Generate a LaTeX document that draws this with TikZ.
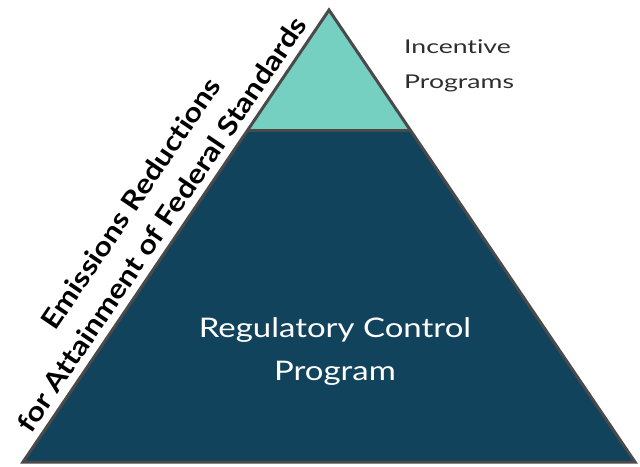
\documentclass[tikz,border=0pt]{standalone}
\usepackage{fontspec}
\setmainfont{Lato}[Ligatures=NoCommon]
\usetikzlibrary{calc}
\definecolor{pyrdark}{HTML}{12435C}
\definecolor{pyrteal}{HTML}{76D0C2}
\definecolor{pyredge}{HTML}{4A4A4A}
\definecolor{pyrtext}{HTML}{2E2E2E}
\tikzset{
  edgeline/.style={draw=pyredge, line width=3pt, line join=miter},
  sidelabel/.style={font=\bfseries\fontsize{27}{30}\selectfont\addfontfeature{FakeStretch=1.15}, text=black, rotate=55.9, inner sep=0pt, anchor=base},
  maintext/.style={font=\fontsize{27}{44}\selectfont\addfontfeature{FakeStretch=1.22}, text=white, anchor=base, inner sep=0pt},
  toptext/.style={font=\fontsize{19}{35}\selectfont\addfontfeature{FakeStretch=1.4}, text=pyrtext, anchor=base west, inner sep=0pt}
}
\begin{document}
\begin{tikzpicture}[x=1pt,y=-1pt]
\useasboundingbox (0,0) rectangle (640,466);
\coordinate (apex) at (329,10);
\coordinate (bl) at (23,462);
\coordinate (br) at (635,462);
\coordinate (tl) at (247.8,130);
\coordinate (tr) at (410.2,130);
\fill[pyrdark] (apex) -- (bl) -- (br) -- cycle;
\fill[pyrteal] (apex) -- (tl) -- (tr) -- cycle;
\draw[edgeline] (tl) -- (tr);
\draw[edgeline] (apex) -- (bl) -- (br) -- cycle;
\coordinate (mid) at ($(bl)!0.503!(apex)$);
\node[sidelabel] (line2) at ($(mid)!9pt!90:(apex)$) {for Attainment of Federal Standards};
\node[sidelabel] (line1) at ($(mid)!46pt!90:(apex)$) {Emissions Reductions};
\node[maintext] (reg1) at (335,337) {Regulatory Control};
\node[maintext] (reg2) at (335,380) {Program};
\node[toptext] (inc1) at (404,53) {Incentive};
\node[toptext] (inc2) at (404,88) {Programs};
\end{tikzpicture}
\end{document}
